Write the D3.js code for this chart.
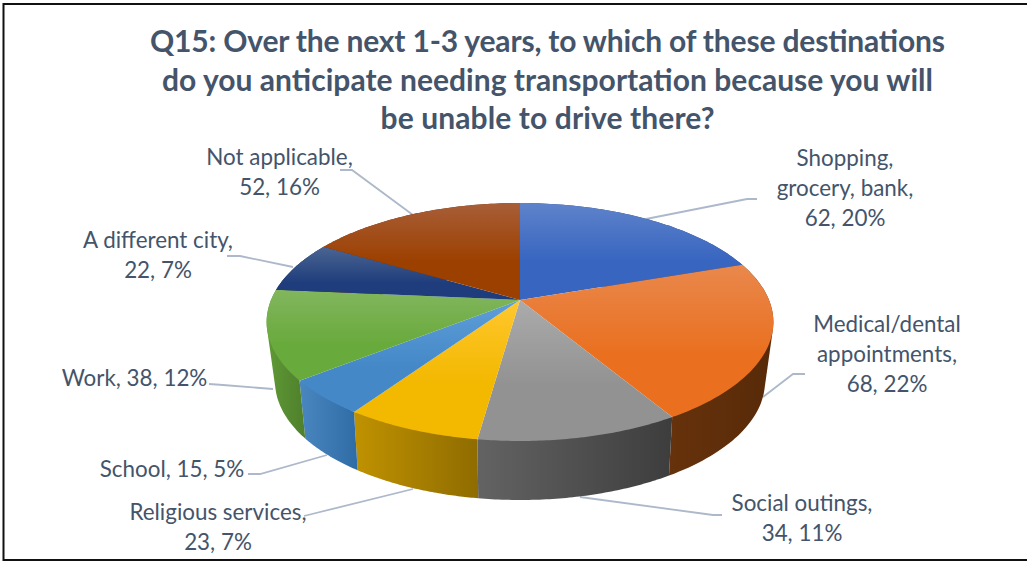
<!DOCTYPE html>
<html>
<head>
<meta charset="utf-8">
<script src="https://cdn.jsdelivr.net/npm/d3@7/dist/d3.min.js"></script>
<style>
html,body{margin:0;padding:0;background:#fff;overflow:hidden}
text{font-family:Lato,"Open Sans",sans-serif;fill:#44546a}
</style>
</head>
<body>
<script>
// Survey responses for Q15
const categories = ["Shopping, grocery, bank","Medical/dental appointments","Social outings","Religious services","School","Work","A different city","Not applicable"];
const counts = [62,68,34,23,15,38,22,52];
const percents = [20,22,11,7,5,12,7,16];
const titleLines = ["Q15: Over the next 1-3 years, to which of these destinations","do you anticipate needing transportation because you will","be unable to drive there?"];
const titleWidths = [795,771,334];

// Slice colours: lit surface (top, bottom of gradient) and shaded rim (left, right)
const topLight = ["#5f83cb","#e9884c","#ababab","#ffc72e","#5f9fd8","#82b65e","#4a6592","#a85e38"];
const topDark  = ["#3765c0","#ea6f1e","#929292","#f3b800","#4488c8","#69aa3c","#1f3d7c","#9c4000"];
const rimLeft  = ["#2a4a8a","#66320c","#636363","#c09200","#4a86c0","#5f9a35","#172c58","#6e2e00"];
const rimRight = ["#223c70","#582a08","#3d3d3d","#8f6c00","#2f6ca5","#4f7f2c","#172c58","#6e2e00"];

// Label wrapping and placement, one entry per slice
const labelBreaks = [[9,24],[14,28],[15],[19],[],[],[17],[15]];
const labelAnchors = [[845,166],[887,332],[802,511],[218,520],[172,477],[134.5,386],[158,248],[279.5,165]];
const leaders = [
  [[646,219],[747,199],[757,199]],
  [[763,397],[793,374],[805,374]],
  [[580,497],[713,515],[722,515]],
  [[413,489],[312,514],[304,516]],
  [[327,455],[260,474],[248,474]],
  [[273,389],[223,385],[209,384]],
  [[293,267],[240,256],[227,256]],
  [[413,215],[352,170],[340,170]]
];

const W = 1027, H = 561;
const svg = d3.select("body").append("svg").attr("width",W).attr("height",H).style("display","block");
const defs = svg.append("defs");

// Perspective discs for the pie's upper face and lower face
const upper = {cx:520, cy:300, rx:249, ry:114.9, k:0.1849};
const lower = {cx:520, cy:358, rx:240, ry:113.6, k:0.2};
const project = (disc,a) => {
  const u = Math.sin(a), v = -Math.cos(a), w = 1 - disc.k*v;
  return [disc.cx + disc.rx*u/w, disc.cy + disc.ry*v/w];
};
const arcSamples = (a0,a1) => d3.range(0,61).map(i => a0 + (a1-a0)*i/60);
const line = d3.line();

const arcs = d3.pie().sort(null).value(d=>d)(counts);

// Page frame, open on the right
svg.append("path").attr("d",`M${W},4H3.5V560H${W}`).attr("fill","none").attr("stroke","#111").attr("stroke-width",2);

// Leader lines sit beneath the pie
svg.append("g").selectAll("path").data(leaders).join("path")
  .attr("d",d=>line(d)).attr("fill","none").attr("stroke","#adb9ca").attr("stroke-width",1.8);

// Rim: each slice is the hull of its upper and lower arcs, so the sides reach the silhouette
const rim = svg.append("g");
arcs.forEach((d,i)=>{
  const angles = arcSamples(d.startAngle,d.endAngle);
  const pts = angles.map(a=>project(upper,a)).concat(angles.map(a=>project(lower,a)));
  const xs = pts.map(p=>p[0]);
  const id = "rim"+i;
  const g = defs.append("linearGradient").attr("id",id).attr("gradientUnits","userSpaceOnUse")
    .attr("x1",d3.min(xs)).attr("x2",d3.max(xs)).attr("y1",0).attr("y2",0);
  g.append("stop").attr("offset",0).attr("stop-color",rimLeft[i]);
  g.append("stop").attr("offset",1).attr("stop-color",rimRight[i]);
  rim.append("path").attr("d",line(d3.polygonHull(pts))+"Z").attr("fill",`url(#${id})`);
});

// Upper face
const face = svg.append("g");
arcs.forEach((d,i)=>{
  const pts = arcSamples(d.startAngle,d.endAngle).map(a=>project(upper,a));
  const ys = pts.map(p=>p[1]).concat([upper.cy]);
  const id = "face"+i;
  const g = defs.append("linearGradient").attr("id",id).attr("gradientUnits","userSpaceOnUse")
    .attr("x1",0).attr("x2",0).attr("y1",d3.min(ys)).attr("y2",d3.min(ys)+Math.max(60,d3.max(ys)-d3.min(ys))*0.6);
  g.append("stop").attr("offset",0).attr("stop-color",topLight[i]);
  g.append("stop").attr("offset",1).attr("stop-color",topDark[i]);
  face.append("path").attr("d",line([[upper.cx,upper.cy],...pts])+"Z").attr("fill",`url(#${id})`);
});

// Title
svg.append("g").selectAll("text").data(titleLines).join("text")
  .attr("x",547.5).attr("y",(d,i)=>52+i*38.5)
  .attr("text-anchor","middle").attr("font-weight",700).attr("font-size",30)
  .attr("textLength",(d,i)=>titleWidths[i]).attr("lengthAdjust","spacing").text(d=>d);

// Data labels read "category, count, percent" and wrap at the given offsets
categories.forEach((name,i)=>{
  const full = `${name}, ${counts[i]}, ${percents[i]}%`;
  const cuts = [0,...labelBreaks[i],full.length];
  const lines = d3.pairs(cuts).map(([a,b])=>full.slice(a,b).trim());
  svg.append("text").attr("text-anchor","middle").attr("font-size",22.4)
    .selectAll("tspan").data(lines).join("tspan")
    .attr("x",labelAnchors[i][0])
    .attr("y",(d,j)=>labelAnchors[i][1]+j*30)
    .text(d=>d);
});
</script>
</body>
</html>
